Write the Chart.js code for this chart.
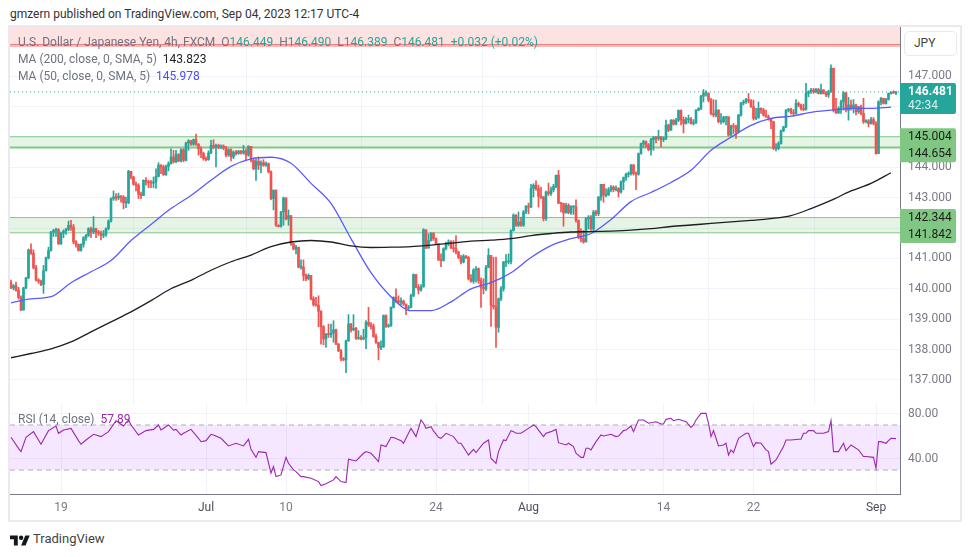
<!DOCTYPE html>
<html>
<head>
<meta charset="utf-8">
<script src="https://cdn.jsdelivr.net/npm/chart.js@4/dist/chart.umd.min.js"></script>
<style>
    body { margin: 0; background: #fff; font-family: Roboto, sans-serif; color: #131722; }
    div.txt { position: absolute; white-space: pre; font-size: 12px; line-height: 16px; }
    canvas { position: absolute; left: 10px; }
    #frame { position: absolute; left: 8px; top: 25px; width: 950px; height: 493px; border: 2px solid #e9e9ef; }
    #corner { position: absolute; left: 901px; top: 27px; width: 59px; height: 32px; background: #fff; }
    #jpy { position: absolute; left: 904px; top: 31px; width: 51px; height: 23px; border: 1px solid #e8e8ee; border-radius: 5px; font-size: 12px; line-height: 23px; text-indent: 9px; color: #444; }
    .g { color: #6f7280; }
    .up { color: #26a69a; }
</style>
</head>
<body>
<div id="frame"></div>
<canvas id="price-canvas" width="950" height="377" style="top:27px"></canvas>
<canvas id="rsi-canvas" width="950" height="118" style="top:404px"></canvas>
<div id="corner"></div>
<div id="jpy">JPY</div>
<div class="txt" style="left:10px;top:6px;color:#333">gmzern published on TradingView.com, Sep 04, 2023 12:17 UTC-4</div>
<div class="txt g" style="left:18px;top:34px">U.S. Dollar / Japanese Yen, 4h, FXCM  O<span class="up">146.449</span>  H<span class="up">146.490</span>  L<span class="up">146.389</span>  C<span class="up">146.481</span>  <span class="up">+0.032 (+0.02%)</span></div>
<div class="txt g" style="left:18px;top:51px">MA (200, close, 0, SMA, 5)  <span style="color:#222">143.823</span></div>
<div class="txt g" style="left:18px;top:68px">MA (50, close, 0, SMA, 5)  <span style="color:#4a4aff">145.978</span></div>
<div class="txt g" style="left:18px;top:411px">RSI (14, close)  <span style="color:#9c27b0">57.89</span></div>
<svg style="position:absolute;left:10px;top:534px" width="20" height="14" viewBox="0 0 36 24"><path fill="#131722" d="M14 20H7V9H0V2h14v18zM28 20h-8l7.5-18h8L28 20z"/><circle fill="#131722" cx="20" cy="6" r="4"/></svg>
<div class="txt" style="left:33px;top:531px;font-size:13px;color:#444">TradingView</div>
<script>
const firstOpen = 140.2;

const closes = [
    140.03, 140.10, 139.96, 139.72, 139.30, 140.03, 140.36, 141.28, 141.17, 140.69,
    140.29, 140.25, 140.14, 140.60, 141.02, 141.26, 141.87, 141.92, 141.95, 141.48,
    141.83, 141.90, 141.95, 142.09, 142.03, 141.54, 141.46, 141.26, 141.46, 141.68,
    141.76, 141.98, 141.87, 141.98, 141.87, 141.83, 141.76, 141.79, 141.98, 142.23,
    142.97, 143.02, 142.99, 143.05, 143.02, 142.83, 142.83, 143.87, 143.68, 143.44,
    143.41, 143.11, 143.07, 143.57, 143.52, 143.49, 143.48, 143.52, 143.70, 144.07,
    144.01, 143.76, 144.03, 144.12, 144.34, 144.18, 144.42, 144.21, 144.58, 144.23,
    144.80, 144.87, 144.76, 144.91, 144.76, 144.61, 144.45, 144.28, 144.25, 144.47,
    144.72, 144.67, 144.72, 144.67, 144.70, 144.65, 144.40, 144.58, 144.34, 144.50,
    144.45, 144.53, 144.47, 144.54, 144.40, 144.69, 144.23, 143.95, 144.20, 144.07,
    144.15, 144.07, 144.12, 143.85, 142.97, 143.24, 142.09, 142.05, 142.53, 142.99,
    142.30, 142.41, 141.48, 141.31, 141.37,
    140.71, 140.71, 140.43, 140.33, 140.44, 139.67, 139.48, 139.46, 139.26, 138.75,
    138.35, 138.51, 138.49, 138.54, 138.65, 138.18, 137.96, 137.69, 137.66, 138.29,
    138.84, 138.65, 138.70, 138.37, 138.37, 138.35, 138.40, 138.90, 138.82, 138.76,
    138.43, 138.24, 138.07, 138.09, 139.12, 138.76, 138.79, 139.39, 139.72, 139.61,
    139.56, 139.59, 139.50, 139.36, 139.39, 139.78, 140.47, 140.05, 139.96, 140.07,
    141.94, 141.34, 141.59, 141.83, 141.65, 141.48, 140.95, 140.93, 141.32, 141.48,
    141.54, 141.35, 141.32, 141.21, 141.04, 140.88, 141.07, 141.04, 140.33, 140.25,
    140.62, 140.66, 140.27, 140.05, 140.00, 140.71, 141.10, 139.45, 139.41, 138.73,
    139.67, 140.00, 140.88, 140.88, 140.90, 141.92, 142.42, 142.09, 142.20, 142.09,
    142.53, 142.72, 142.69, 143.30, 143.41, 143.30, 143.05, 143.02, 142.31, 143.19,
    143.13, 143.26, 143.37, 143.74, 142.82, 142.80, 142.50, 142.75, 142.50, 142.69,
    142.69, 142.25, 141.70, 141.65, 141.54, 142.31, 142.36, 141.97, 142.53, 142.47,
    143.02,
    143.44, 143.08, 143.08, 143.26, 143.35, 143.26, 143.30, 143.19, 143.52, 143.66,
    143.77, 143.79, 144.07, 143.79, 143.77, 144.45, 144.78, 144.84, 144.73, 144.58,
    144.91, 144.98, 144.95, 145.00, 144.91, 144.95, 145.39, 145.22, 145.55, 145.42,
    145.55, 145.88, 145.57, 145.44, 145.57, 145.57, 145.44, 145.46, 145.88, 145.94,
    146.34, 146.43, 146.43, 146.21, 145.77, 145.72, 145.88, 145.50, 145.50, 145.64,
    145.66, 145.06, 145.36, 145.33, 145.17, 145.72, 146.12, 146.15, 146.23, 146.19,
    145.99, 145.61, 145.64, 145.94, 145.88, 145.72, 145.66, 145.61, 145.50, 144.62,
    144.62, 144.78, 145.20, 145.33, 145.88, 145.91, 145.79, 145.77, 146.10, 146.05,
    145.94, 145.90, 146.43, 146.49, 146.54, 146.49, 146.56, 146.43, 146.54, 146.43,
    146.38, 146.49, 147.26, 145.88, 145.79, 145.94, 146.15, 146.45, 145.88, 146.05,
    145.94, 146.05, 145.83, 145.99, 145.77, 145.50, 145.52, 145.44, 145.57, 145.44,
    144.45, 146.15, 146.27, 146.10, 146.23, 146.43, 146.46, 146.45, 146.48,
];

const highs = [
    140.29, 140.14, 140.22, 140.05, 139.77, 140.05, 140.38, 141.31, 141.48, 141.28,
    140.77, 140.33, 140.29, 140.77, 141.04, 141.37, 141.89, 141.96, 142.00, 141.98,
    141.87, 141.94, 142.00, 142.23, 142.25, 142.12, 141.59, 141.48, 141.48, 141.72,
    141.79, 142.01, 142.03, 142.38, 142.00, 141.92, 141.90, 141.92, 142.01, 142.27,
    142.99, 143.22, 143.13, 143.15, 143.07, 143.07, 143.02, 143.90, 143.87, 143.70,
    143.52, 143.46, 143.18, 143.59, 143.66, 143.57, 143.57, 143.68, 143.95, 144.15,
    144.09, 144.07, 144.07, 144.18, 144.61, 144.56, 144.56, 144.45, 144.61, 144.61,
    144.83, 144.91, 144.89, 144.93, 145.09, 144.78, 144.67, 144.50, 144.34, 144.54,
    144.89, 144.91, 144.76, 144.76, 144.74, 144.74, 144.69, 144.61, 144.61, 144.54,
    144.56, 144.56, 144.56, 144.72, 144.61, 144.71, 144.69, 144.28, 144.28, 144.34,
    144.21, 144.25, 144.18, 144.14, 143.88, 143.26, 143.26, 142.11, 142.55, 143.02,
    142.99, 142.60, 142.41, 141.50, 141.43,
    141.37, 140.95, 140.95, 140.49, 140.49, 140.36, 139.74, 139.72, 139.77, 139.28,
    138.79, 138.53, 138.84, 138.84, 138.95, 138.67, 138.20, 138.00, 137.74, 138.31,
    139.15, 138.86, 139.15, 138.73, 138.62, 138.46, 138.67, 138.95, 139.39, 138.89,
    138.84, 138.51, 138.24, 138.29, 139.14, 139.14, 138.84, 139.41, 139.74, 140.00,
    139.77, 139.70, 139.63, 139.50, 139.45, 139.83, 140.49, 140.47, 140.14, 140.14,
    141.98, 141.94, 141.81, 141.85, 141.85, 141.68, 141.48, 141.15, 141.35, 141.54,
    141.61, 141.59, 141.59, 141.75, 141.24, 141.10, 141.13, 141.10, 141.06, 140.47,
    140.66, 140.73, 140.69, 140.36, 140.33, 140.77, 141.32, 141.10, 141.04, 141.04,
    139.70, 140.07, 140.90, 141.13, 141.15, 141.94, 142.47, 142.44, 142.53, 142.36,
    142.58, 142.74, 142.82, 143.44, 143.46, 143.55, 143.41, 143.35, 143.04, 143.22,
    143.48, 143.35, 143.44, 143.74, 143.90, 142.85, 142.82, 142.82, 142.80, 142.74,
    142.74, 142.93, 142.27, 141.97, 141.92, 142.34, 142.41, 142.41, 142.58, 142.58,
    143.04,
    143.44, 143.24, 143.30, 143.33, 143.40, 143.39, 143.39, 143.33, 143.55, 143.68,
    143.81, 143.85, 144.10, 144.10, 143.85, 144.47, 144.80, 144.89, 144.87, 144.78,
    144.95, 145.02, 145.02, 145.22, 145.02, 145.00, 145.55, 145.42, 145.57, 145.57,
    145.61, 145.88, 145.68, 145.66, 145.64, 145.72, 145.64, 145.57, 145.90, 145.96,
    146.37, 146.56, 146.52, 146.45, 146.27, 146.23, 146.21, 145.90, 145.77, 145.68,
    145.68, 145.66, 145.39, 145.44, 145.39, 145.74, 146.14, 146.21, 146.27, 146.43,
    146.23, 146.21, 145.94, 146.15, 145.96, 145.94, 145.88, 145.72, 145.61, 145.52,
    144.78, 144.84, 145.22, 145.35, 145.90, 145.94, 145.94, 145.90, 146.23, 146.15,
    146.08, 146.08, 146.76, 146.52, 146.60, 146.60, 146.60, 146.60, 146.74, 146.56,
    146.49, 146.54, 147.37, 147.26, 146.27, 145.99, 146.21, 146.49, 146.46, 146.30,
    146.21, 146.23, 146.08, 146.01, 146.05, 146.27, 145.57, 145.57, 145.64, 145.64,
    145.50, 146.19, 146.30, 146.27, 146.27, 146.45, 146.49, 146.52, 146.49,
];

const lows = [
    140.00, 139.96, 139.92, 139.66, 139.28, 139.30, 140.00, 140.33, 141.13, 140.65,
    140.25, 140.18, 140.10, 139.85, 140.58, 140.98, 141.24, 141.72, 141.72, 141.46,
    141.46, 141.68, 141.79, 141.92, 141.92, 141.48, 141.37, 141.24, 141.24, 141.37,
    141.59, 141.72, 141.68, 141.81, 141.68, 141.76, 141.61, 141.68, 141.72, 141.94,
    142.19, 142.91, 142.91, 142.93, 142.85, 142.63, 142.67, 142.80, 143.62, 143.41,
    143.22, 142.97, 142.97, 143.07, 143.41, 143.33, 143.33, 143.33, 143.30, 143.68,
    143.79, 143.73, 143.73, 143.88, 144.10, 144.14, 144.15, 144.18, 144.18, 144.18,
    144.21, 144.56, 144.72, 144.72, 144.72, 144.40, 144.32, 144.23, 144.21, 144.23,
    144.45, 144.61, 144.01, 144.61, 144.61, 144.58, 144.34, 144.36, 144.21, 144.28,
    144.40, 144.43, 144.43, 144.43, 144.25, 144.36, 144.18, 143.92, 143.57, 143.92,
    143.81, 144.03, 144.03, 143.81, 142.93, 142.60, 142.05, 142.03, 142.03, 142.09,
    142.27, 142.09, 141.43, 141.28, 141.15,
    140.69, 140.65, 140.27, 140.27, 140.29, 139.63, 139.43, 139.43, 138.75, 138.18,
    138.16, 138.07, 138.40, 138.40, 138.24, 138.16, 137.93, 137.63, 137.63, 137.24,
    138.27, 138.57, 138.62, 138.33, 138.33, 138.32, 138.32, 138.03, 138.76, 138.67,
    138.40, 138.20, 137.66, 138.00, 138.07, 138.73, 138.73, 138.76, 139.37, 139.55,
    139.50, 139.48, 139.45, 139.15, 139.31, 139.37, 139.74, 140.03, 139.83, 139.92,
    140.05, 141.32, 141.34, 141.57, 141.59, 141.46, 140.93, 140.73, 140.91, 141.28,
    141.42, 141.32, 141.21, 141.15, 140.99, 140.82, 140.85, 140.99, 140.29, 140.22,
    140.18, 140.22, 140.18, 139.39, 139.83, 139.94, 140.69, 138.76, 139.33, 138.07,
    138.57, 139.61, 139.92, 140.73, 140.82, 140.82, 141.90, 142.05, 142.05, 142.05,
    142.05, 142.47, 142.47, 142.67, 143.02, 143.24, 142.69, 142.97, 142.23, 142.25,
    143.07, 143.07, 143.19, 143.33, 142.80, 142.53, 142.06, 142.49, 142.47, 142.45,
    142.45, 142.19, 141.65, 141.54, 141.50, 141.57, 141.97, 141.92, 141.87, 142.41,
    142.41,
    142.91, 142.85, 143.02, 143.13, 143.19, 143.19, 143.22, 143.02, 143.15, 143.26,
    143.57, 143.68, 143.74, 143.74, 143.26, 143.74, 144.43, 144.65, 144.65, 144.54,
    144.40, 144.56, 144.80, 144.89, 144.67, 144.84, 144.91, 145.17, 145.22, 145.39,
    145.39, 145.50, 145.39, 145.13, 145.42, 145.46, 145.42, 145.39, 145.44, 145.86,
    145.90, 146.15, 146.34, 146.15, 145.72, 145.66, 145.66, 145.46, 145.42, 145.46,
    145.39, 145.02, 145.02, 145.11, 144.95, 145.13, 145.68, 146.05, 146.10, 146.12,
    145.97, 145.55, 145.57, 145.61, 145.77, 145.68, 145.64, 145.55, 145.27, 144.58,
    144.54, 144.58, 144.76, 145.17, 145.30, 145.82, 145.75, 145.72, 145.75, 145.99,
    145.88, 145.86, 145.88, 146.32, 146.43, 146.43, 146.45, 146.41, 146.41, 146.41,
    146.32, 146.30, 146.46, 145.82, 145.77, 145.77, 145.77, 145.88, 145.82, 145.55,
    145.88, 145.79, 145.72, 145.77, 145.72, 145.44, 145.46, 145.33, 145.42, 145.39,
    144.43, 144.67, 146.05, 146.08, 146.08, 146.21, 146.41, 146.43, 146.389,
];

// moving averages, one reading every 8 candles
const maStep = 8;
const ma200 = [
    137.73, 137.87, 138.02, 138.25, 138.58, 138.91, 139.24, 139.61, 140.00, 140.28,
    140.61, 140.89, 141.11, 141.39, 141.54, 141.59, 141.54, 141.41, 141.36, 141.37,
    141.39, 141.44, 141.50, 141.57, 141.60, 141.65, 141.75, 141.82, 141.87, 141.88,
    141.90, 141.93, 141.98, 142.05, 142.10, 142.15, 142.20, 142.25, 142.31, 142.41,
    142.64, 142.91, 143.22, 143.47, 143.82,
];
const ma50 = [
    139.54, 139.67, 139.74, 140.20, 140.56, 140.93, 141.59, 142.12, 142.64, 143.07,
    143.57, 144.03, 144.28, 144.33, 144.13, 143.47, 142.81, 141.65, 140.53, 139.74,
    139.28, 139.28, 139.57, 140.00, 140.20, 140.53, 141.03, 141.42, 141.65, 141.82,
    142.28, 142.87, 143.17, 143.50, 143.90, 144.56, 144.99, 145.38, 145.61, 145.68,
    145.81, 145.88, 145.94, 145.94, 145.98,
];

// RSI, one reading every 3 candles, plus the wiggles that fall between them
const rsiStep = 3;
const rsiValues = [
    59.1, 49.3, 59.1, 64.1, 52.9, 65.0, 69.1, 65.5, 67.0, 56.1,
    56.7, 61.7, 59.7, 64.1, 73.8, 69.1, 70.0, 61.1, 65.0, 66.1,
    65.5, 70.0, 66.1, 62.6, 66.1, 58.2, 56.1, 61.1, 58.2, 51.4,
    53.8, 51.4, 48.4, 46.4, 45.5, 33.1, 25.7, 36.0, 28.7, 24.2,
    22.8, 19.8, 17.8, 21.3, 19.8, 39.6, 38.1, 44.9, 44.9, 37.5,
    50.8, 58.8, 56.1, 62.6, 59.7, 71.5, 68.5, 59.1, 62.6, 59.7,
    53.8, 43.4, 45.5, 53.8, 40.5, 46.4, 56.1, 64.1, 62.6, 67.0,
    68.5, 59.7, 64.1, 54.3, 52.3, 50.8, 41.3, 49.3, 55.2, 60.2,
    61.7, 60.2, 65.5, 64.1, 74.4, 71.5, 72.9, 70.9, 75.9, 75.0,
    72.9, 70.0, 80.3, 71.5, 58.2, 52.3, 47.9, 58.2, 62.6, 50.8,
    53.8, 46.4, 39.0, 50.8, 56.7, 57.3, 62.6, 65.0, 62.6, 64.1,
    46.4, 53.8, 52.3, 47.9, 42.0, 41.3, 55.2, 56.1, 57.9,
];
const rsiSpikeIdx = [
    4, 19, 28, 47, 59, 65, 68, 76, 80, 95,
    98, 104, 106, 110, 113, 116, 124, 130, 134, 142,
    148, 152, 157, 160, 164, 166, 169, 172, 179, 185,
    191, 194, 197, 200, 202, 209, 211, 214, 218, 223,
    226, 229, 230, 232, 236, 242, 245, 248, 251, 253,
    260, 262, 265, 272, 274, 278, 280, 281, 283, 286,
    287, 289, 292, 295, 298, 302, 304, 310, 316, 317,
    319, 322, 325, 328, 329, 331, 334, 341, 346, 347,
    350, 352,
];
const rsiSpikeValues = [
    46.4, 62.6, 52.9, 74.4, 70.0, 65.5, 61.1, 55.2, 61.7, 57.3,
    41.3, 27.2, 24.2, 41.3, 30.2, 24.2, 16.3, 24.2, 18.9, 46.4,
    52.3, 59.1, 53.8, 67.0, 74.4, 67.0, 64.7, 58.2, 53.8, 48.4,
    56.7, 36.0, 56.7, 65.0, 62.6, 70.0, 65.5, 62.6, 66.1, 53.8,
    44.9, 41.3, 49.3, 47.9, 61.1, 59.7, 65.0, 69.1, 74.4, 74.4,
    70.9, 75.0, 73.8, 67.9, 74.4, 80.3, 59.7, 65.0, 51.4, 53.8,
    43.4, 45.5, 59.7, 62.6, 54.3, 47.9, 35.2, 56.7, 57.3, 62.6,
    65.0, 62.6, 62.6, 73.8, 46.4, 46.4, 47.2, 42.0, 31.6, 55.2,
    53.8, 58.2,
];

const timeTicks = [20, 78, 110, 170, 207, 261, 297, 346];
const timeLabels = ['19', 'Jul', '10', '24', 'Aug', '14', '22', 'Sep'];

const priceTicks = [137, 138, 139, 140, 141, 142, 143, 144, 145, 146, 147, 148];
const priceLabelled = [137, 138, 139, 140, 141, 143, 144, 147];
const rsiTicks = [40, 80];

const zones = [[145.004, 144.654], [142.344, 141.842]];
const lastPrice = 146.481;
const countdown = '42:34';
const alertBand = [148.62, 148.04, 147.99];

const xMin = -0.4;
const xMax = 355.6;
const upColor = '#26a69a';
const downColor = '#ef5350';
const zoneColor = '#81c784';
const gridColor = '#f0f3fa';
const axisColor = '#787b86';
const axisFont = { family: 'Roboto, sans-serif', size: 12 };

const opens = closes.map((c, i) => i === 0 ? firstOpen : closes[i - 1]);
const candleColors = closes.map((c, i) => c >= opens[i] ? upColor : downColor);

function hLine(y, color, width, extra) {
    return Object.assign({
        type: 'line',
        data: [{ x: xMin, y }, { x: xMax, y }],
        borderColor: color,
        borderWidth: width,
        pointRadius: 0,
        fill: false,
        order: 8,
    }, extra);
}

function maLine(values, color) {
    return {
        type: 'line',
        data: values.map((y, k) => ({ x: Math.min(k * maStep, closes.length - 1), y })),
        borderColor: color,
        borderWidth: 1.3,
        pointRadius: 0,
        fill: false,
        cubicInterpolationMode: 'monotone',
        order: 1,
    };
}

const priceTags = {
    id: 'priceTags',
    afterDraw(chart) {
        const ctx = chart.ctx;
        const y = chart.scales.y;
        const left = chart.chartArea.right;
        const width = 56;
        ctx.save();
        ctx.font = '12px Roboto, sans-serif';
        ctx.textAlign = 'left';
        ctx.textBaseline = 'middle';
        zones.forEach(([top, bottom]) => {
            const y1 = y.getPixelForValue(top);
            const y2 = Math.max(y.getPixelForValue(bottom), y1 + 17);
            ctx.fillStyle = zoneColor;
            ctx.beginPath();
            ctx.roundRect(left, y1 - 8.5, width, y2 - y1 + 17, [0, 2, 2, 0]);
            ctx.fill();
            ctx.fillStyle = '#1c1c1c';
            ctx.fillText(top.toFixed(3), left + 8, y1);
            ctx.fillText(bottom.toFixed(3), left + 8, y2);
        });
        const yLast = y.getPixelForValue(lastPrice);
        ctx.fillStyle = upColor;
        ctx.beginPath();
        ctx.roundRect(left, yLast - 9, width, 31, [0, 2, 2, 0]);
        ctx.fill();
        ctx.fillStyle = '#ffffff';
        ctx.font = 'bold 12px Roboto, sans-serif';
        ctx.fillText(lastPrice.toFixed(3), left + 8, yLast);
        ctx.font = '12px Roboto, sans-serif';
        ctx.fillStyle = '#d8f0ee';
        ctx.fillText(countdown, left + 8, yLast + 14);
        ctx.restore();
    },
};

const timeScale = (showLabels) => ({
    type: 'linear',
    min: xMin,
    max: xMax,
    offset: false,
    afterBuildTicks: (scale) => { scale.ticks = timeTicks.map(value => ({ value })); },
    afterFit: (scale) => {
        scale.height = showLabels ? 28 : 0;
        scale.paddingLeft = 0;
        scale.paddingRight = 0;
    },
    grid: { color: gridColor, drawTicks: false },
    border: { display: showLabels, color: axisColor },
    ticks: {
        display: showLabels,
        autoSkip: false,
        maxRotation: 0,
        padding: 7,
        font: axisFont,
        color: (c) => ['Jul', 'Aug', 'Sep'].includes(timeLabels[c.index]) ? '#4c4f5a' : axisColor,
        callback: (value) => timeLabels[timeTicks.indexOf(value)],
    },
});

const valueScale = (min, max, ticks, callback) => ({
    position: 'right',
    min,
    max,
    afterBuildTicks: (scale) => { scale.ticks = ticks.map(value => ({ value })); },
    afterFit: (scale) => {
        // labels hang over the pane ends, keep the pane full height anyway
        scale.width = 60;
        scale.paddingTop = 0;
        scale.paddingBottom = 0;
    },
    grid: { color: gridColor, drawTicks: false },
    border: { color: axisColor },
    ticks: { autoSkip: false, padding: 8, font: axisFont, color: axisColor, callback },
});

const commonOptions = {
    responsive: false,
    animation: false,
    events: [],
    layout: { padding: 0 },
    plugins: { legend: { display: false }, tooltip: { enabled: false } },
};

new Chart(document.getElementById('price-canvas'), {
    type: 'bar',
    data: {
        datasets: [
            {
                data: closes.map((c, i) => ({ x: i, y: [opens[i], c] })),
                backgroundColor: candleColors,
                barThickness: 2,
                minBarLength: 1,
                grouped: false,
                order: 4,
            },
            {
                data: closes.map((c, i) => ({
                    x: i,
                    y: [Math.min(lows[i], opens[i], c), Math.max(highs[i], opens[i], c)],
                })),
                backgroundColor: candleColors,
                barThickness: 1,
                grouped: false,
                order: 5,
            },
            maLine(ma200, '#1e1e1e'),
            maLine(ma50, '#5a5aff'),
            hLine(lastPrice, upColor, 1, { borderDash: [1, 3], order: 3 }),
            hLine(alertBand[0], 'rgba(0,0,0,0)', 0, { fill: { value: alertBand[1] }, backgroundColor: '#fde2e2', order: 9 }),
            hLine(alertBand[1], '#f28080', 1),
            hLine(alertBand[2], '#f28080', 1),
            hLine(zones[0][0], zoneColor, 1, { fill: { value: zones[0][1] }, backgroundColor: 'rgba(129,199,132,0.2)' }),
            hLine(zones[0][1], zoneColor, 2),
            hLine(zones[1][0], zoneColor, 1, { fill: { value: zones[1][1] }, backgroundColor: 'rgba(129,199,132,0.2)' }),
            hLine(zones[1][1], zoneColor, 1),
        ],
    },
    options: Object.assign({}, commonOptions, {
        scales: {
            x: timeScale(false),
            y: valueScale(136.208, 148.617, priceTicks,
                (value) => priceLabelled.includes(value) ? value.toFixed(3) : ''),
        },
    }),
    plugins: [priceTags],
});

const rsiPoints = rsiValues.map((y, k) => ({ x: k * rsiStep, y }))
    .concat(rsiSpikeIdx.map((x, k) => ({ x, y: rsiSpikeValues[k] })))
    .sort((a, b) => a.x - b.x);

new Chart(document.getElementById('rsi-canvas'), {
    type: 'line',
    data: {
        datasets: [
            { data: rsiPoints, borderColor: '#9c27b0', borderWidth: 1.1, pointRadius: 0, fill: false, order: 1 },
            hLine(70, '#b5b1bb', 1, { borderDash: [5, 4], fill: { value: 30 }, backgroundColor: 'rgba(170,60,255,0.12)' }),
            hLine(30, '#b5b1bb', 1, { borderDash: [5, 4] }),
        ],
    },
    options: Object.assign({}, commonOptions, {
        scales: {
            x: timeScale(true),
            y: valueScale(8.8, 88.6, rsiTicks, (value) => value.toFixed(2)),
        },
    }),
});
</script>
</body>
</html>
